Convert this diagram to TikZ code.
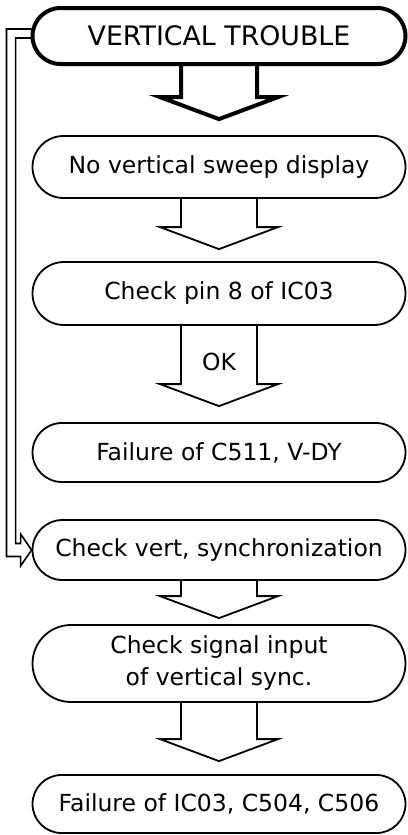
\documentclass[tikz,border=0pt]{standalone}
\usepackage{fontspec}
\setmainfont{DejaVu Sans}
\usetikzlibrary{shapes,arrows,positioning}
\tikzstyle{box}       = [draw, fill = white, rounded rectangle, minimum width=373pt, minimum height=60pt, line width=1.8pt, inner sep=0pt, align=center, font=\fontsize{23.5}{32}\selectfont]
\tikzstyle{start}     = [box, line width=4pt, minimum height=56pt, font=\fontsize{26.8}{30}\selectfont]
\tikzstyle{tag}       = [font=\fontsize{23.5}{28}\selectfont]
\tikzstyle{flow}      = [draw, line width=1.8pt]
\tikzstyle{thickflow} = [draw, line width=4pt]
\tikzstyle{feedback}  = [draw, line width=1.6pt]
% hollow block arrow: source, target, gap above target
\newcommand{\flowarrow}[4][flow]{%
  \path [#1] ([xshift=-38pt]#2.south) -- ([xshift=-38pt,yshift=#4+22pt]#3.north) -- ++(-21pt,0)
    -- ([yshift=#4]#3.north) -- ([xshift=59pt,yshift=#4+22pt]#3.north) -- ++(-21pt,0) -- ([xshift=38pt]#2.south);}

\begin{document}
\begin{tikzpicture}
	\useasboundingbox (0,0) rectangle (407pt,-835pt);
	% Boxes %
	\node [start] (trouble) at (219pt,-36pt) {VERTICAL TROUBLE};
	\node [box, node distance=131pt, below of = trouble, minimum height=62pt] (nosweep) {No vertical sweep display};
	\node [box, node distance=126.5pt, below of = nosweep, minimum height=63pt] (pin8) {Check pin 8 of IC03};
	\node [tag, node distance=68.5pt, below of = pin8] (ok) {OK};
	\node [box, node distance=159pt, below of = pin8, minimum height=59pt] (c511) {Failure of C511, V-DY};
	\node [box, node distance=97.5pt, below of = c511] (vsync) {Check vert, synchronization};
	\node [box, node distance=113.5pt, below of = vsync, minimum height=77pt] (siginput) {Check signal input\\of vertical sync.};
	\node [box, node distance=140.5pt, below of = siginput, minimum height=58pt] (ic03) {Failure of IC03, C504, C506};
	% Arrows %
	\flowarrow[thickflow]{trouble}{nosweep}{16pt}
	\flowarrow{nosweep}{pin8}{12pt}
	\flowarrow{pin8}{c511}{16pt}
	\flowarrow{vsync}{siginput}{6pt}
	\flowarrow{siginput}{ic03}{13pt}
	% Return to sync check %
	\path [feedback] ([xshift=1pt,yshift=7pt]trouble.west) -- ++(-25pt,0) |- ([xshift=-11pt,yshift=-6.5pt]vsync.west)
		-- ++(0,-9.5pt) -- (vsync.west) -- ++(-11pt,16pt) -- ++(0,-9.5pt) -- ++(-5pt,0) |- ([xshift=1pt,yshift=-2pt]trouble.west);
\end{tikzpicture}
\end{document}
